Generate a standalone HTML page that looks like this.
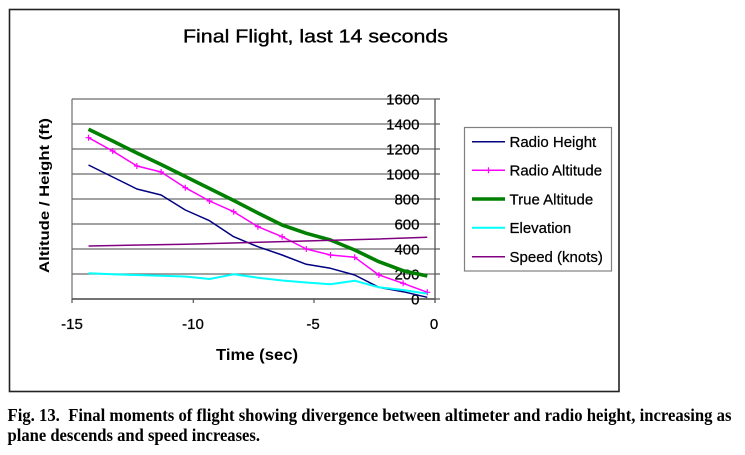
<!DOCTYPE html>
<html>
<head>
<meta charset="utf-8">
<style>
  html, body { margin: 0; padding: 0; background: #ffffff; }
  body { width: 745px; height: 455px; overflow: hidden; }
  svg { display: block; }
  .ar { font-family: "Liberation Sans", Arial, sans-serif; fill: #000; }
  .tm { font-family: "Liberation Serif", "Times New Roman", serif; font-weight: bold; fill: #000; }
</style>
</head>
<body>
<svg width="745" height="455" viewBox="0 0 745 455" xmlns="http://www.w3.org/2000/svg">
  <rect x="0" y="0" width="745" height="455" fill="#ffffff"/>
  <!-- outer frame -->
  <rect x="9.5" y="9.5" width="609.5" height="382" fill="none" stroke="#222" stroke-width="1.6"/>

  <!-- title -->
  <text class="ar" x="183" y="42.7" font-size="18.5" stroke="#000" stroke-width="0.35" textLength="265" lengthAdjust="spacingAndGlyphs">Final Flight, last 14 seconds</text>

  <!-- plot area border -->
  <line x1="72" y1="99" x2="72" y2="299" stroke="#7a7a7a" stroke-width="1.3"/>
  <!-- gridlines -->
  <g stroke="#6a6a6a" stroke-width="1.3">
    <line x1="72" y1="99" x2="435" y2="99"/>
    <line x1="72" y1="124" x2="435" y2="124"/>
    <line x1="72" y1="149" x2="435" y2="149"/>
    <line x1="72" y1="174" x2="435" y2="174"/>
    <line x1="72" y1="199" x2="435" y2="199"/>
    <line x1="72" y1="224" x2="435" y2="224"/>
    <line x1="72" y1="249" x2="435" y2="249"/>
    <line x1="72" y1="274" x2="435" y2="274"/>
  </g>
  <!-- axes -->
  <line x1="72" y1="299" x2="435" y2="299" stroke="#444" stroke-width="1.4"/>
  <line x1="435" y1="99" x2="435" y2="303" stroke="#555" stroke-width="1.3"/>
  <g stroke="#555" stroke-width="1.2">
    <line x1="72" y1="299" x2="72" y2="303"/>
    <line x1="193.3" y1="299" x2="193.3" y2="303"/>
    <line x1="314" y1="299" x2="314" y2="303"/>
    <line x1="435" y1="99" x2="440" y2="99"/>
    <line x1="435" y1="124" x2="440" y2="124"/>
    <line x1="435" y1="149" x2="440" y2="149"/>
    <line x1="435" y1="174" x2="440" y2="174"/>
    <line x1="435" y1="199" x2="440" y2="199"/>
    <line x1="435" y1="224" x2="440" y2="224"/>
    <line x1="435" y1="249" x2="440" y2="249"/>
    <line x1="435" y1="274" x2="440" y2="274"/>
    <line x1="435" y1="299" x2="440" y2="299"/>
  </g>

  <!-- y tick labels -->
  <g class="ar" font-size="15" text-anchor="end" stroke="#000" stroke-width="0.25">
    <text x="419.5" y="104.5">1600</text>
    <text x="419.5" y="129.5">1400</text>
    <text x="419.5" y="154.5">1200</text>
    <text x="419.5" y="179.5">1000</text>
    <text x="419.5" y="204.5">800</text>
    <text x="419.5" y="229.5">600</text>
    <text x="419.5" y="254.5">400</text>
    <text x="419.5" y="279.5">200</text>
    <text x="419.5" y="304.5">0</text>
  </g>

  <!-- x tick labels -->
  <g class="ar" font-size="15" text-anchor="middle" stroke="#000" stroke-width="0.25">
    <text x="72" y="329">-15</text>
    <text x="193" y="329">-10</text>
    <text x="313" y="329">-5</text>
    <text x="434" y="329">0</text>
  </g>

  <!-- axis titles -->
  <text class="ar" x="257" y="360" font-size="16" font-weight="bold" text-anchor="middle" textLength="82" lengthAdjust="spacingAndGlyphs">Time (sec)</text>
  <text class="ar" transform="translate(49,195.5) rotate(-90)" x="0" y="0" font-size="14" font-weight="bold" text-anchor="middle" textLength="155" lengthAdjust="spacingAndGlyphs">Altitude / Height (ft)</text>

  <!-- series -->
  <!-- Radio Height -->
  <polyline fill="none" stroke="#000080" stroke-width="1.5" stroke-linejoin="round"
    points="88.5,165 112.7,177 136.9,189 161.1,195 185.3,210 209.5,220.7 233.7,236.7 257.9,246.7 282.1,255 306.3,264.3 330.5,268.3 354.7,275 378.9,287.3 403.1,291.7 427.3,297.3"/>
  <!-- Radio Altitude -->
  <polyline fill="none" stroke="#ff00ff" stroke-width="1.5" stroke-linejoin="round"
    points="88.5,137.7 112.7,151 136.9,166 161.1,172 185.3,187.7 209.5,201 233.7,211.7 257.9,226.7 282.1,236.7 306.3,249 330.5,255 354.7,257.3 378.9,275 403.1,283.3 427.3,292.3"/>
  <g stroke="#ff00ff" stroke-width="1.2">
    <path d="M85.5,137.7h6M88.5,134.7v6
             M109.7,151h6M112.7,148v6
             M133.9,166h6M136.9,163v6
             M158.1,172h6M161.1,169v6
             M182.3,187.7h6M185.3,184.7v6
             M206.5,201h6M209.5,198v6
             M230.7,211.7h6M233.7,208.7v6
             M254.9,226.7h6M257.9,223.7v6
             M279.1,236.7h6M282.1,233.7v6
             M303.3,249h6M306.3,246v6
             M327.5,255h6M330.5,252v6
             M351.7,257.3h6M354.7,254.3v6
             M375.9,275h6M378.9,272v6
             M400.1,283.3h6M403.1,280.3v6
             M424.3,292.3h6M427.3,289.3v6"/>
  </g>
  <!-- True Altitude -->
  <polyline fill="none" stroke="#008000" stroke-width="3.6" stroke-linejoin="round"
    points="88.5,129.3 112.7,141 136.9,153 161.1,164.5 185.3,176.5 209.5,188.5 233.7,200.5 257.9,213 282.1,225 306.3,233.3 330.5,240 354.7,250 378.9,261.7 403.1,270.7 427.3,276"/>
  <!-- Elevation -->
  <polyline fill="none" stroke="#00ffff" stroke-width="2" stroke-linejoin="round"
    points="88.5,273.3 112.7,274.3 136.9,275 161.1,275.7 185.3,276.5 209.5,279 233.7,274.3 257.9,277.7 282.1,280.5 306.3,282.5 330.5,284.2 354.7,280.7 378.9,287.3 403.1,290 427.3,293.7"/>
  <!-- Speed -->
  <polyline fill="none" stroke="#800080" stroke-width="1.5" stroke-linejoin="round"
    points="88.5,246 185.3,244.2 282.1,241.6 378.9,239 427.3,237.3"/>

  <!-- legend -->
  <rect x="464.5" y="127.5" width="147" height="143.5" fill="#ffffff" stroke="#808080" stroke-width="1.2"/>
  <line x1="472" y1="141.7" x2="505" y2="141.7" stroke="#000080" stroke-width="1.5"/>
  <line x1="472" y1="170.3" x2="505" y2="170.3" stroke="#ff00ff" stroke-width="1.5"/>
  <line x1="488.5" y1="167.3" x2="488.5" y2="173.3" stroke="#ff00ff" stroke-width="1.2"/>
  <line x1="472" y1="199" x2="505" y2="199" stroke="#008000" stroke-width="3.4"/>
  <line x1="472" y1="227.7" x2="505" y2="227.7" stroke="#00ffff" stroke-width="2"/>
  <line x1="472" y1="256.7" x2="505" y2="256.7" stroke="#800080" stroke-width="1.5"/>
  <g class="ar" font-size="15" stroke="#000" stroke-width="0.25">
    <text x="509.5" y="147">Radio Height</text>
    <text x="509.5" y="175.6">Radio Altitude</text>
    <text x="509.5" y="204.3">True Altitude</text>
    <text x="509.5" y="233">Elevation</text>
    <text x="509.5" y="262">Speed (knots)</text>
  </g>

  <!-- caption -->
  <text class="tm" xml:space="preserve" x="7.5" y="421" font-size="17.5" textLength="724" lengthAdjust="spacingAndGlyphs">Fig. 13.  Final moments of flight showing divergence between altimeter and radio height, increasing as</text>
  <text class="tm" x="7.5" y="441" font-size="17.5" textLength="252.5" lengthAdjust="spacingAndGlyphs">plane descends and speed increases.</text>
</svg>
</body>
</html>
